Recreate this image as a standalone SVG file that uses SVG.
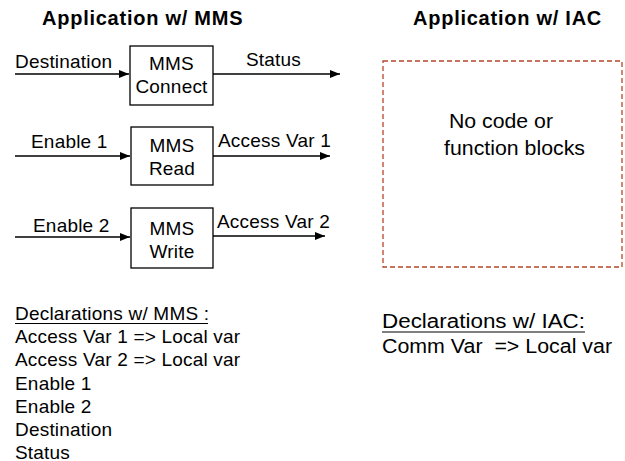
<svg xmlns="http://www.w3.org/2000/svg" width="625" height="461" viewBox="0 0 625 461">
  <defs>
    <marker id="arrow" viewBox="0 0 10 8" refX="10" refY="4" markerWidth="10" markerHeight="8" markerUnits="userSpaceOnUse" orient="auto">
      <path d="M0,0 L10,4 L0,8 Z" fill="#000"/>
    </marker>
    <style>
      text { font-family: "Liberation Sans", Arial, sans-serif; fill: #000; }
      .title { font-size: 20px; font-weight: bold; letter-spacing: 0.75px; }
      .lbl { font-size: 19px; letter-spacing: 0.2px; }
      .big { font-size: 21px; }
      .iac { font-size: 20px; white-space: pre; }
      .mid { text-anchor: middle; }
      .block { fill: #fff; stroke: #000; stroke-width: 1.3; }
      .wire { stroke: #000; stroke-width: 1.5; fill: none; marker-end: url(#arrow); }
      .dash { fill: none; stroke: #b5472a; stroke-width: 1.3; stroke-dasharray: 5 3; }
      .ul { stroke: #000; stroke-width: 1; }
    </style>
  </defs>

  <!-- section titles -->
  <text class="title" x="42" y="25">Application w/ MMS</text>
  <text class="title" x="413" y="25">Application w/ IAC</text>

  <!-- connectors -->
  <g id="connectors">
    <line class="wire" x1="15" y1="74" x2="129" y2="74"/>
    <line class="wire" x1="213" y1="74" x2="340" y2="74"/>
    <line class="wire" x1="15" y1="156" x2="130" y2="156"/>
    <line class="wire" x1="213" y1="156" x2="330" y2="156"/>
    <line class="wire" x1="15" y1="237" x2="130" y2="237"/>
    <line class="wire" x1="211" y1="236" x2="325" y2="236"/>
    <text class="lbl" x="15" y="68">Destination</text>
    <text class="lbl" x="246" y="66">Status</text>
    <text class="lbl" x="31" y="148">Enable 1</text>
    <text class="lbl" x="218" y="147">Access Var 1</text>
    <text class="lbl" x="33" y="232">Enable 2</text>
    <text class="lbl" x="217" y="228">Access Var 2</text>
  </g>

  <!-- function blocks -->
  <g id="mms-connect">
    <rect class="block" x="130" y="46" width="83" height="59"/>
    <text class="lbl mid" x="171.5" y="70">MMS</text>
    <text class="lbl mid" x="171.5" y="93">Connect</text>
  </g>
  <g id="mms-read">
    <rect class="block" x="131" y="127" width="82" height="58"/>
    <text class="lbl mid" x="172" y="152">MMS</text>
    <text class="lbl mid" x="172" y="175">Read</text>
  </g>
  <g id="mms-write">
    <rect class="block" x="131" y="208" width="82" height="60"/>
    <text class="lbl mid" x="172" y="235">MMS</text>
    <text class="lbl mid" x="172" y="258">Write</text>
  </g>

  <!-- IAC application area -->
  <g id="iac-area">
    <rect class="dash" x="383" y="61" width="239" height="206"/>
    <text class="big" x="449" y="128" textLength="104" lengthAdjust="spacingAndGlyphs">No code or</text>
    <text class="big" x="444" y="155" textLength="141" lengthAdjust="spacingAndGlyphs">function blocks</text>
  </g>

  <!-- declarations -->
  <g id="mms-declarations">
    <text class="lbl" x="15" y="320">Declarations w/ MMS :</text>
    <line class="ul" x1="15" y1="323.5" x2="208" y2="323.5"/>
    <text class="lbl" x="15" y="343">Access Var 1 =&gt; Local var</text>
    <text class="lbl" x="15" y="366">Access Var 2 =&gt; Local var</text>
    <text class="lbl" x="15" y="389.5">Enable 1</text>
    <text class="lbl" x="15" y="412.5">Enable 2</text>
    <text class="lbl" x="15" y="435.5">Destination</text>
    <text class="lbl" x="15" y="458.5">Status</text>
  </g>
  <g id="iac-declarations">
    <text class="iac" x="382" y="328" textLength="203" lengthAdjust="spacingAndGlyphs">Declarations w/ IAC:</text>
    <line class="ul" x1="382" y1="332" x2="585" y2="332"/>
    <text class="iac" x="382" y="353" textLength="230" lengthAdjust="spacingAndGlyphs">Comm Var  =&gt; Local var</text>
  </g>
</svg>
